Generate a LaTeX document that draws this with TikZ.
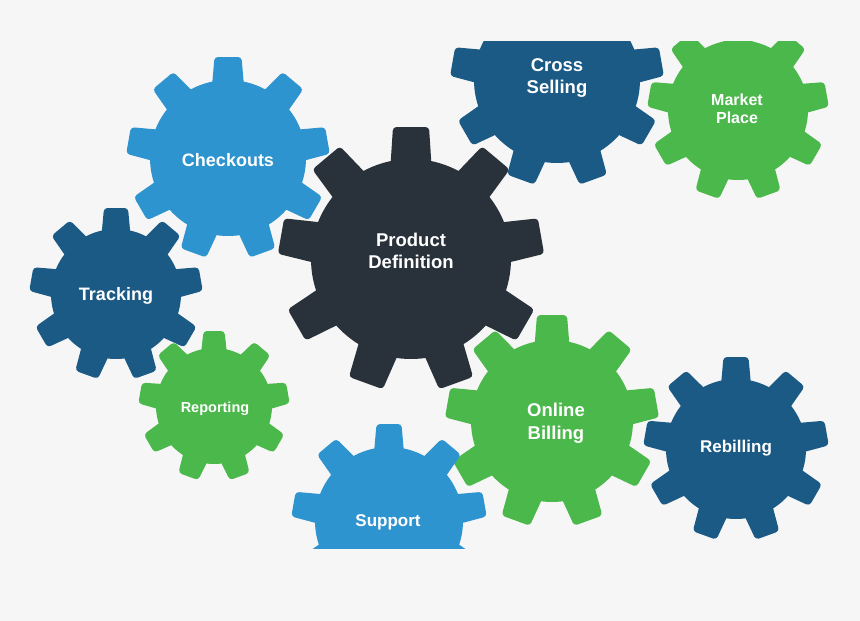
\documentclass[tikz,border=0pt]{standalone}
\usepackage{fontspec}
\setmainfont{Liberation Sans}

\definecolor{bgGray}{RGB}{246,246,246}
\definecolor{gearLight}{RGB}{45,148,208}
\definecolor{gearNavy}{RGB}{27,90,133}
\definecolor{gearGreen}{RGB}{75,184,75}
\definecolor{gearDark}{RGB}{41,50,59}

% gear: x, y, body radius, outer radius, tooth width, colour
\newcommand{\drawgear}[6]{%
  \begin{scope}[shift={(#1,#2)}]
    \fill[#6] (0,0) circle (#3);
    \foreach \a in {-90,-50,...,230}
      \fill[#6, rounded corners=3.5pt, rotate=\a] (#3-6,-#5/2-2.5) -- (#4,-#5/2) -- (#4,#5/2) -- (#3-6,#5/2+2.5) -- cycle;
  \end{scope}}

\tikzset{gearlabel/.style 2 args={text=white, align=center, inner sep=0pt, font=\bfseries\fontsize{#1}{#2}\selectfont}}

\begin{document}
\begin{tikzpicture}[x=1pt,y=1pt,yscale=-1]

    % background
    \fill[bgGray] (0,0) rectangle (860,621);
    \useasboundingbox (0,0) rectangle (860,621);

    \begin{scope}
    \clip (0,41) rectangle (860,548);

    %Shape: Gear [Checkouts]
    \drawgear{228}{158}{78}{101}{27}{gearLight}
    %Shape: Gear [Product Definition]
    \drawgear{411}{259}{100}{132}{36}{gearDark}
    %Shape: Gear [Cross Selling]
    \drawgear{557}{80}{83}{106}{29}{gearNavy}
    %Shape: Gear [Market Place]
    \drawgear{738}{110}{70}{90}{25}{gearGreen}
    %Shape: Gear [Tracking]
    \drawgear{116}{294}{65}{86}{24}{gearNavy}
    %Shape: Gear [Reporting]
    \drawgear{214}{406}{58}{75}{21}{gearGreen}
    %Shape: Gear [Online Billing]
    \drawgear{552}{421}{81}{106}{30}{gearGreen}
    %Shape: Gear [Rebilling]
    \drawgear{736}{449}{70}{92}{25}{gearNavy}
    %Shape: Gear [Support]
    \drawgear{389}{521}{74}{97}{25}{gearLight}
    \end{scope}

    % Text Node
    \node[gearlabel={18}{22}] (checkouts) at (228,160) {Checkouts};
    % Text Node
    \node[gearlabel={18.5}{22}] (product) at (411,251) {Product\\Definition};
    % Text Node
    \node[gearlabel={18.5}{23}] (cross) at (557,78) {Cross\\Selling};
    % Text Node
    \node[gearlabel={16}{18}] (market) at (737,109) {Market\\Place};
    % Text Node
    \node[gearlabel={18}{22}] (tracking) at (116,296) {Tracking};
    % Text Node
    \node[gearlabel={14.5}{18}] (reporting) at (215,409) {Reporting};
    % Text Node
    \node[gearlabel={18.5}{23}] (online) at (556,423) {Online\\Billing};
    % Text Node
    \node[gearlabel={17}{21}] (rebilling) at (736,448) {Rebilling};
    % Text Node
    \node[gearlabel={17}{21}] (support) at (388,522) {Support};

\end{tikzpicture}
\end{document}
